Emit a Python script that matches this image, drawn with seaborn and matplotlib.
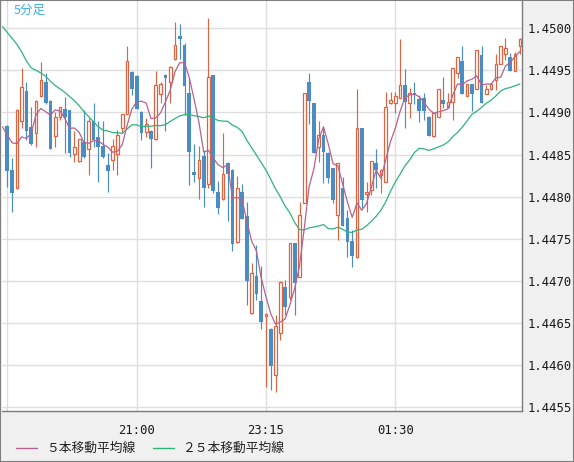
import matplotlib
matplotlib.use("Agg")
import matplotlib.pyplot as plt
import seaborn as sns
import numpy as np
import pandas as pd
from matplotlib.lines import Line2D
from matplotlib.patches import Rectangle

# ---------------- data (5-minute candles) ----------------
opens = [1.44884,1.44832,1.44810,1.44890,1.44926,1.44883,1.44876,1.44920,1.44936,1.44914,
 1.44872,1.44895,1.44904,1.44903,1.44851,1.44842,1.44865,1.44857,1.44890,1.44871,
 1.44860,1.44838,1.44844,1.44851,1.44882,1.44898,1.44948,1.44943,1.44901,1.44877,
 1.44878,1.44869,1.44922,1.44945,1.44936,1.44964,1.44991,1.44980,1.44923,1.44829,
 1.44822,1.44848,1.44815,1.44945,1.44806,1.44797,1.44840,1.44832,1.44746,1.44806,
 1.44777,1.44662,1.44706,1.44676,1.44658,1.44643,1.44588,1.44638,1.44693,1.44681,
 1.44745,1.44705,1.44793,1.44936,1.44911,1.44859,1.44873,1.44852,1.44834,1.44778,
 1.44810,1.44775,1.44747,1.44728,1.44882,1.44803,1.44808,1.44840,1.44826,1.44818,
 1.44911,1.44911,1.44917,1.44933,1.44911,1.44923,1.44916,1.44917,1.44895,1.44872,
 1.44895,1.44915,1.44907,1.44913,1.44947,1.44961,1.44920,1.44934,1.44928,1.44968,
 1.44922,1.44928,1.44939,1.44958,1.44970,1.44966,1.44949,1.44979]
highs = [1.44885,1.44846,1.44904,1.44953,1.44936,1.44907,1.44915,1.44960,1.44947,1.44915,
 1.44901,1.44907,1.44918,1.44903,1.44878,1.44869,1.44903,1.44894,1.44911,1.44890,
 1.44890,1.44852,1.44869,1.44879,1.44898,1.44979,1.44949,1.44945,1.44902,1.44894,
 1.44879,1.44949,1.44936,1.44946,1.44955,1.45008,1.45005,1.44983,1.44941,1.44863,
 1.44860,1.44856,1.45012,1.44945,1.44819,1.44876,1.44841,1.44833,1.44825,1.44815,
 1.44794,1.44721,1.44743,1.44718,1.44662,1.44644,1.44660,1.44700,1.44701,1.44745,
 1.44745,1.44794,1.44923,1.44947,1.44911,1.44890,1.44882,1.44853,1.44834,1.44840,
 1.44823,1.44784,1.44761,1.44928,1.44882,1.44818,1.44842,1.44857,1.44833,1.44924,
 1.44924,1.44924,1.44987,1.44952,1.44929,1.44936,1.44921,1.44923,1.44896,1.44899,
 1.44928,1.44942,1.44923,1.44953,1.44966,1.44979,1.44934,1.44934,1.44974,1.44979,
 1.44933,1.44934,1.44970,1.44979,1.44989,1.44971,1.44972,1.44989]
lows = [1.44812,1.44782,1.44809,1.44882,1.44867,1.44861,1.44859,1.44918,1.44910,1.44857,
 1.44859,1.44891,1.44852,1.44847,1.44841,1.44841,1.44846,1.44826,1.44859,1.44818,
 1.44846,1.44806,1.44832,1.44826,1.44876,1.44898,1.44921,1.44904,1.44867,1.44871,
 1.44834,1.44867,1.44911,1.44878,1.44911,1.44962,1.44964,1.44897,1.44814,1.44818,
 1.44797,1.44788,1.44810,1.44804,1.44780,1.44796,1.44771,1.44736,1.44745,1.44774,
 1.44671,1.44661,1.44677,1.44643,1.44574,1.44570,1.44568,1.44630,1.44660,1.44677,
 1.44660,1.44705,1.44793,1.44886,1.44852,1.44841,1.44816,1.44816,1.44793,1.44749,
 1.44765,1.44728,1.44717,1.44727,1.44787,1.44782,1.44802,1.44810,1.44804,1.44818,
 1.44910,1.44899,1.44917,1.44882,1.44894,1.44910,1.44889,1.44891,1.44872,1.44871,
 1.44895,1.44905,1.44905,1.44891,1.44941,1.44922,1.44920,1.44902,1.44928,1.44911,
 1.44922,1.44927,1.44927,1.44958,1.44962,1.44949,1.44949,1.44970]
closes = [1.44831,1.44804,1.44903,1.44930,1.44878,1.44863,1.44914,1.44939,1.44911,1.44857,
 1.44895,1.44907,1.44895,1.44852,1.44859,1.44869,1.44847,1.44890,1.44867,1.44859,
 1.44847,1.44831,1.44860,1.44873,1.44898,1.44961,1.44928,1.44904,1.44876,1.44886,
 1.44869,1.44933,1.44934,1.44941,1.44954,1.44980,1.44987,1.44932,1.44853,1.44826,
 1.44844,1.44810,1.44942,1.44807,1.44787,1.44827,1.44827,1.44744,1.44810,1.44774,
 1.44700,1.44709,1.44685,1.44651,1.44661,1.44599,1.44646,1.44699,1.44669,1.44745,
 1.44698,1.44778,1.44923,1.44914,1.44852,1.44873,1.44853,1.44822,1.44796,1.44840,
 1.44765,1.44746,1.44730,1.44882,1.44796,1.44806,1.44842,1.44832,1.44832,1.44907,
 1.44915,1.44920,1.44933,1.44913,1.44923,1.44921,1.44902,1.44902,1.44872,1.44899,
 1.44928,1.44910,1.44913,1.44953,1.44966,1.44922,1.44934,1.44922,1.44974,1.44911,
 1.44928,1.44934,1.44958,1.44979,1.44977,1.44949,1.44970,1.44987]

# moving-average values for bars before a full window is visible
ma5_head = [1.44883, 1.44873, 1.44864, 1.44863, 1.44871]            # bars -1..3
ma25_head = [1.45002, 1.44995, 1.44988, 1.44981, 1.44972, 1.44961, 1.44953, 1.44950,
             1.44947, 1.44943, 1.44937, 1.44932, 1.44928, 1.44924, 1.44919, 1.44914,
             1.44908, 1.44901, 1.44895, 1.44889, 1.44883, 1.44879, 1.44878, 1.44876,
             1.44876]                                                  # bars -1..23

time_ticks = [0, 27, 54, 81]
time_labels = ["", "21:00", "23:15", "01:30"]
price_ticks = [1.4455, 1.4460, 1.4465, 1.4470, 1.4475, 1.4480, 1.4485, 1.4490, 1.4495, 1.4500]
legend_labels = ["５本移動平均線", "２５本移動平均線"]
title_text = "5分足"

# ---------------- style ----------------
sns.set_style("white")
plt.rcParams["font.family"] = ["DejaVu Sans Mono", "Noto Sans CJK JP"]

RED = "#dc6440"
BLUE = "#4a8cc4"
MA5C = "#b5628f"
MA25C = "#2eb37b"
GRID = "#dedede"

W, H = 574, 462
fig = plt.figure(figsize=(W / 100, H / 100), dpi=100, facecolor="#f0f0f0")
ax = fig.add_axes([2 / W, 51 / H, 520 / W, 410 / H])
ax.set_facecolor("white")

n = len(closes)
df = pd.DataFrame({"t": np.arange(n), "o": opens, "h": highs, "l": lows, "c": closes})
up = df["c"] >= df["o"]
body_lo = np.minimum(df["o"], df["c"])
body_h = (df["c"] - df["o"]).abs()

ax.vlines(df["t"][up], df["l"][up], df["h"][up], color=RED, lw=0.85, zorder=2)
ax.vlines(df["t"][~up], df["l"][~up], df["h"][~up], color=BLUE, lw=0.85, zorder=2)
ax.bar(df["t"][up], body_h[up], bottom=body_lo[up], width=0.56,
       facecolor="white", edgecolor=RED, linewidth=0.9, zorder=3)
ax.bar(df["t"][~up], np.maximum(body_h[~up], 0.00002), bottom=body_lo[~up], width=0.78,
       color=BLUE, linewidth=0, zorder=3)

cs = pd.Series(closes)
ma5 = np.concatenate([ma5_head, cs.rolling(5).mean().values[4:]])
ma25 = np.concatenate([ma25_head, cs.rolling(25).mean().values[24:]])
xm = np.arange(-1, n)
sns.lineplot(x=xm, y=ma25, ax=ax, color=MA25C, lw=0.9, zorder=4)
sns.lineplot(x=xm, y=ma5, ax=ax, color=MA5C, lw=0.9, zorder=4)

ax.set_xlim(-1.11, 107.45)
ax.set_ylim(1.445455, 1.450324)

ax.set_yticks(price_ticks)
ax.set_yticklabels([f"{p:.4f}" for p in price_ticks])
ax.yaxis.tick_right()
ax.set_xticks(time_ticks)
ax.set_xticklabels(time_labels)
ax.tick_params(axis="y", length=0, pad=4, labelsize=8.8, labelcolor="#1a1a1a")
ax.tick_params(axis="x", length=0, pad=9, labelsize=8.8, labelcolor="#1a1a1a")
ax.grid(True, color=GRID, lw=1)
ax.set_axisbelow(True)
ax.set_xlabel("")
ax.set_ylabel("")
for s in ["top", "left"]:
    ax.spines[s].set_visible(False)
for s in ["right", "bottom"]:
    ax.spines[s].set_color("#7a7a7a")
    ax.spines[s].set_linewidth(1)

# title tag
fig.text(14 / W, 1 - 10 / H, title_text, color="#3aaee6", fontsize=9,
         family=["Noto Sans CJK JP", "DejaVu Sans"], va="center", ha="left")

# legend
yl = 1 - 448 / H
for (x0, x1, xt), col, lab in zip([(16, 37, 46), (153, 174, 182)], [MA5C, MA25C], legend_labels):
    fig.add_artist(Line2D([x0 / W, x1 / W], [yl, yl], color=col, lw=1))
    fig.text(xt / W, yl, lab, fontsize=9.2, family=["Noto Sans CJK JP", "DejaVu Sans"],
             va="center", ha="left", color="#222222")

fig.patches.append(Rectangle((0, 0), 1, 1, transform=fig.transFigure, fill=False,
                             edgecolor="#7f7f7f", lw=1.5))

fig.savefig("out.png", dpi=100, facecolor=fig.get_facecolor())
